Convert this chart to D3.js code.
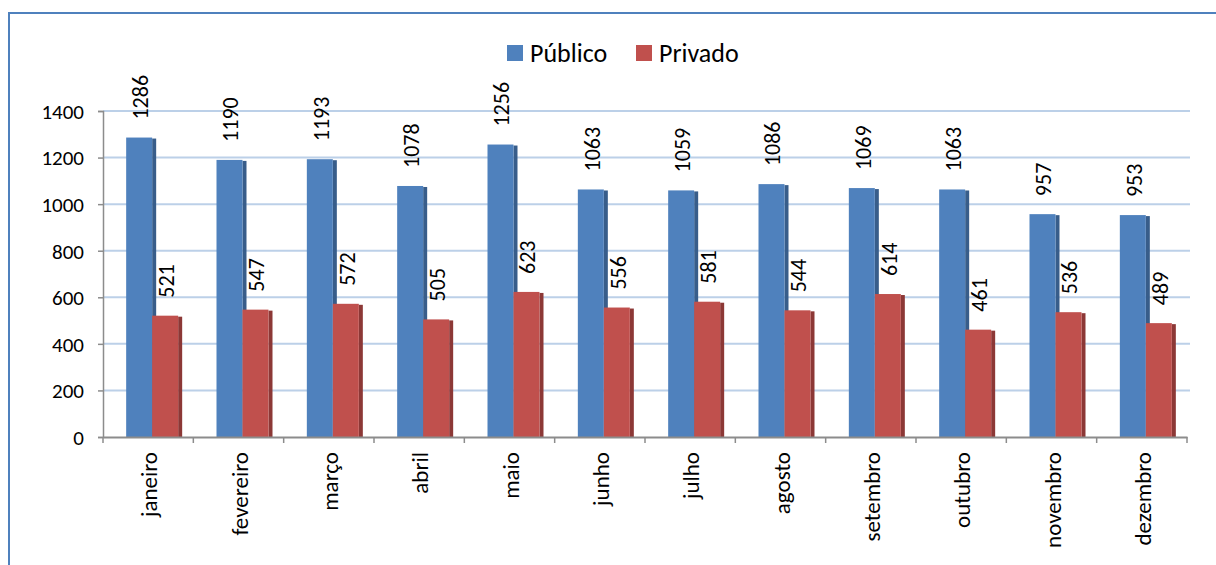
<!DOCTYPE html>
<html>
<head>
<meta charset="utf-8">
<script src="https://cdn.jsdelivr.net/npm/d3@7"></script>
<style>
  body { margin: 0; background: #fff; }
  svg text { font-family: Carlito, Calibri, Lato, sans-serif; fill: #000; }
</style>
</head>
<body>
<svg id="chart"></svg>
<script>
// dados
const meses = ['janeiro', 'fevereiro', 'março', 'abril', 'maio', 'junho', 'julho', 'agosto', 'setembro', 'outubro', 'novembro', 'dezembro'];
const series = ['Público', 'Privado'];
const publico = [1286, 1190, 1193, 1078, 1256, 1063, 1059, 1086, 1069, 1063, 957, 953];
const privado = [521, 547, 572, 505, 623, 556, 581, 544, 614, 461, 536, 489];
const yTicks = [0, 200, 400, 600, 800, 1000, 1200, 1400];

const cores = { 'Público': '#4F81BD', 'Privado': '#C0504D' };
const lados = { 'Público': '#385D8A', 'Privado': '#8C3836' };

const W = 1216, H = 565;
const margin = { top: 111, right: 29, bottom: 128, left: 103 };
const width = W - margin.left - margin.right;
const height = H - margin.top - margin.bottom;

const svg = d3.select('#chart').attr('width', W).attr('height', H);

// moldura
svg.append('rect')
  .attr('x', 9).attr('y', 13)
  .attr('width', W + 20).attr('height', H + 20)
  .attr('fill', 'none')
  .attr('stroke', '#4F81BD')
  .attr('stroke-width', 2);

const g = svg.append('g').attr('transform', `translate(${margin.left},${margin.top})`);

// escalas
const x = d3.scaleBand().domain(meses).range([0, width]);
const groupW = 52;
const x1 = d3.scaleBand().domain(series).range([0, groupW]);
const y = d3.scaleLinear().domain([0, 1400]).range([height, 0]);
const depth = 4;

// grade
g.append('g')
  .selectAll('line')
  .data(yTicks.filter((d) => d > 0))
  .join('line')
  .attr('x1', 0)
  .attr('x2', width + 3)
  .attr('y1', (d) => y(d))
  .attr('y2', (d) => y(d))
  .attr('stroke', '#BCD0E8')
  .attr('stroke-width', 2);

// eixo Y
const yAxis = g.append('g')
  .call(d3.axisLeft(y).tickValues(yTicks).tickFormat(d3.format('d')).tickSize(5).tickPadding(14));
yAxis.select('.domain').attr('stroke', '#8C8C8C').attr('stroke-width', 1.5);
yAxis.selectAll('.tick line').attr('stroke', '#8C8C8C').attr('stroke-width', 1.5);
yAxis.selectAll('.tick text').style('font-size', '21px').attr('dy', '0.35em');

// barras
const rows = meses.map((m, i) => ({ mes: m, 'Público': publico[i], 'Privado': privado[i] }));

const grupos = g.append('g')
  .selectAll('g')
  .data(rows)
  .join('g')
  .attr('transform', (d) => `translate(${x(d.mes) + (x.bandwidth() - groupW) / 2 + 4},0)`);

series.forEach((s) => {
  // lado escuro (profundidade)
  grupos.append('rect')
    .attr('x', x1(s) + x1.bandwidth())
    .attr('y', (d) => y(d[s]) + 1)
    .attr('width', depth)
    .attr('height', (d) => height - y(d[s]) - 1)
    .attr('fill', lados[s]);
  // face
  grupos.append('rect')
    .attr('x', x1(s))
    .attr('y', (d) => y(d[s]))
    .attr('width', x1.bandwidth())
    .attr('height', (d) => height - y(d[s]))
    .attr('fill', cores[s]);
});

// rótulos dos valores
series.forEach((s) => {
  grupos.append('text')
    .attr('transform', (d) => `translate(${x1(s) + x1.bandwidth() / 2 + 1},${y(d[s]) - 18}) rotate(-90)`)
    .attr('dy', '0.35em')
    .style('font-size', '22px')
    .text((d) => d[s]);
});

// eixo X
const xAxis = g.append('g')
  .attr('transform', `translate(0,${height})`)
  .call(d3.axisBottom(x).tickSize(0).tickPadding(0));
xAxis.select('.domain').attr('stroke', '#8C8C8C').attr('stroke-width', 2);
xAxis.selectAll('.tick text')
  .attr('transform', 'translate(1,15) rotate(-90)')
  .attr('text-anchor', 'end')
  .attr('x', 0)
  .attr('y', 0)
  .attr('dy', '0.35em')
  .style('font-size', '23px');

// marcas entre categorias
g.append('g')
  .selectAll('line')
  .data(d3.range(meses.length + 1))
  .join('line')
  .attr('x1', (i) => i * x.step())
  .attr('x2', (i) => i * x.step())
  .attr('y1', height)
  .attr('y2', height + 6)
  .attr('stroke', '#8C8C8C')
  .attr('stroke-width', 1.5);

// legenda
const legenda = svg.append('g');
const legX = [507, 636];
series.forEach((s, i) => {
  legenda.append('rect')
    .attr('x', legX[i]).attr('y', 45)
    .attr('width', 16).attr('height', 16)
    .attr('fill', cores[s]);
  legenda.append('text')
    .attr('x', legX[i] + 23)
    .attr('y', 62)
    .style('font-size', '26px')
    .text(s);
});
</script>
</body>
</html>
